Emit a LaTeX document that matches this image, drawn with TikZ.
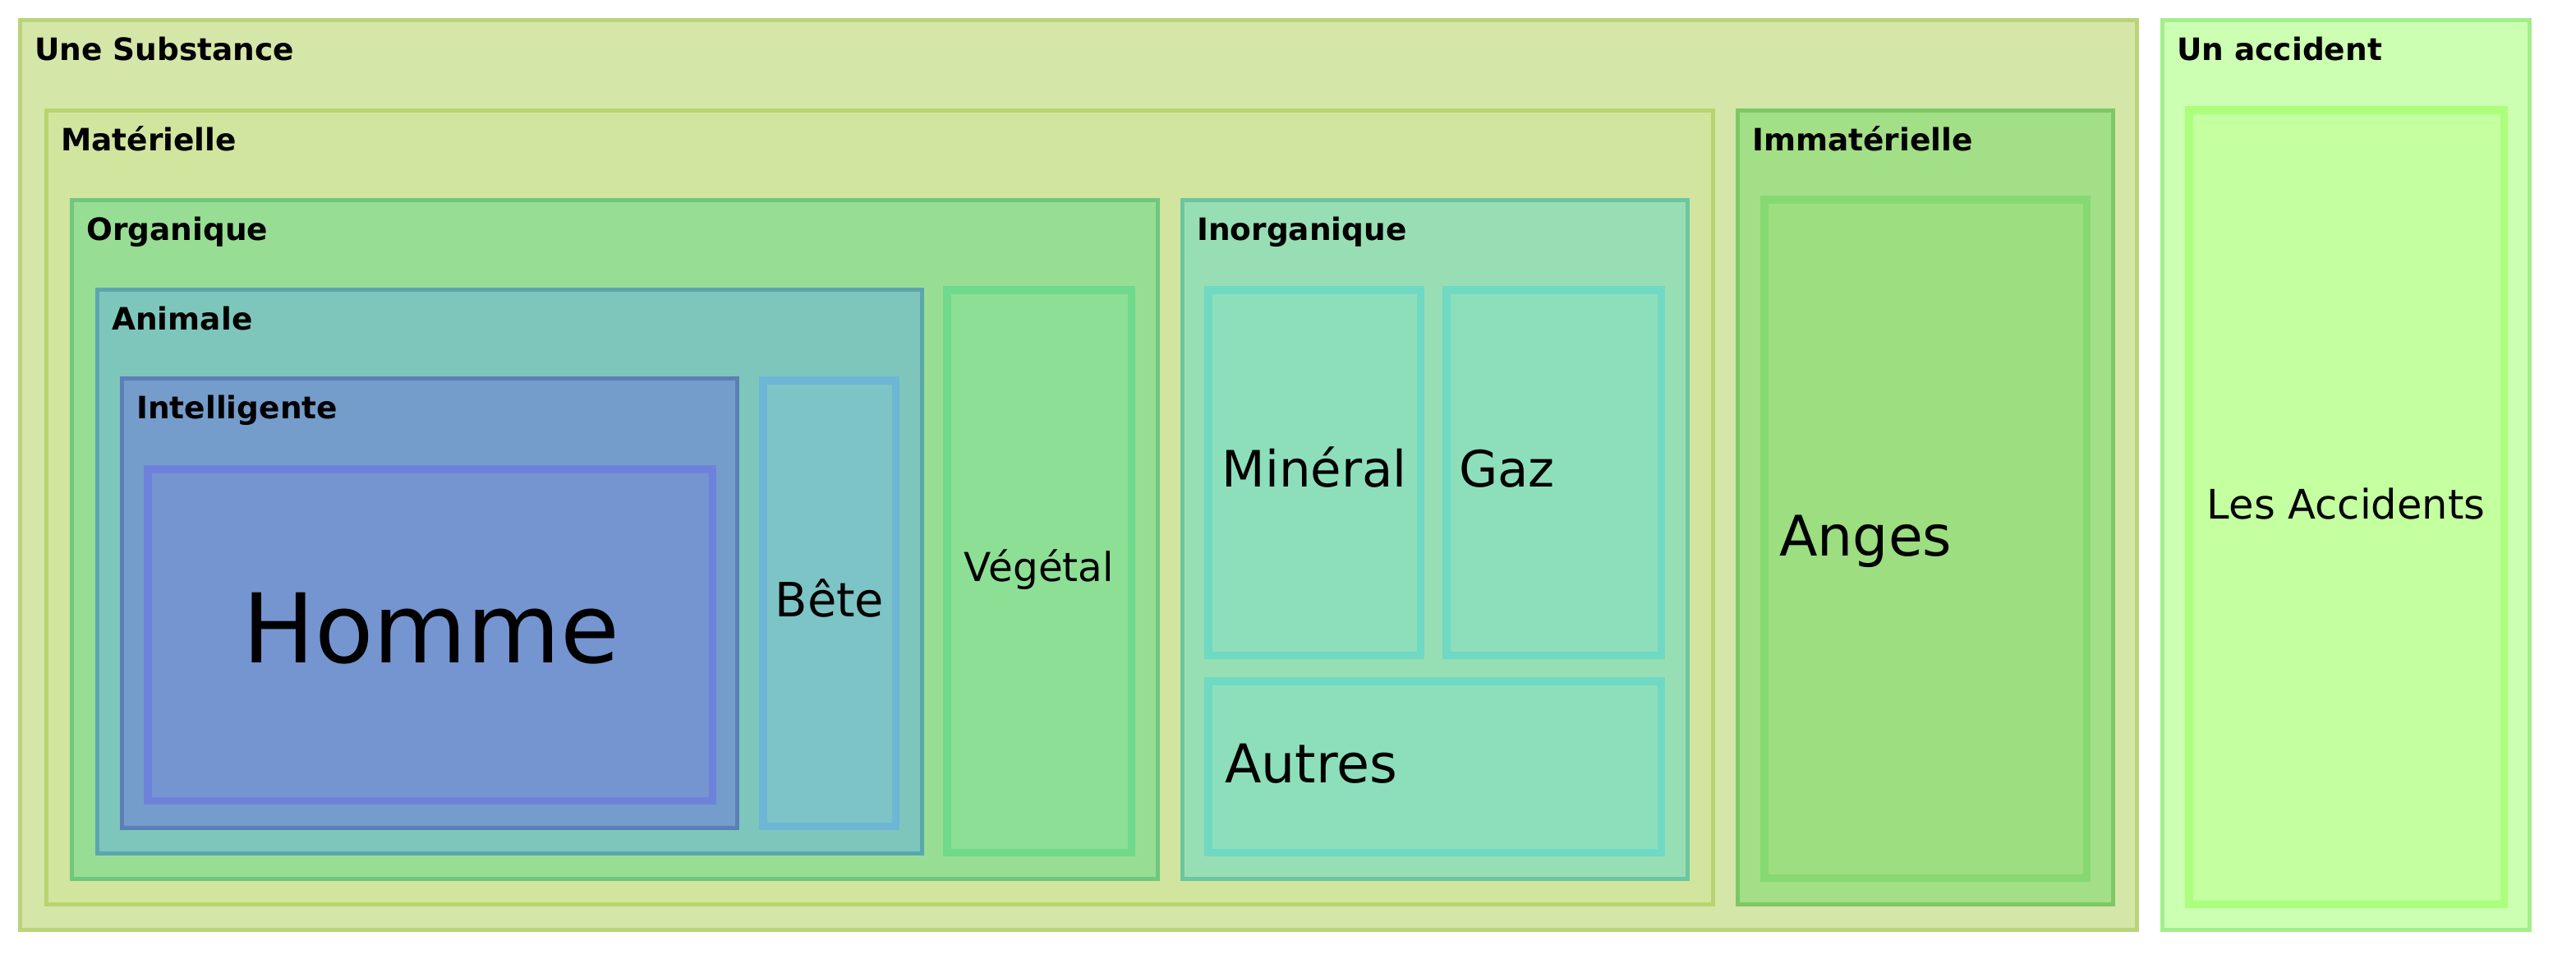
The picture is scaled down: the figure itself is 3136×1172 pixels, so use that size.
\documentclass[tikz,border=0pt]{standalone}
\usepackage{fontspec}
\setmainfont{DejaVu Sans}
\definecolor{subF}{HTML}{D5E6A9}\definecolor{subL}{HTML}{B9D47A}
\definecolor{accF}{HTML}{CCFFB2}\definecolor{accL}{HTML}{A3EE8A}
\definecolor{matF}{HTML}{D1E59F}\definecolor{matL}{HTML}{B8D46F}
\definecolor{immF}{HTML}{A3DF86}\definecolor{immL}{HTML}{7DC866}
\definecolor{orgF}{HTML}{97DE94}\definecolor{orgL}{HTML}{70C67C}
\definecolor{inoF}{HTML}{98DEB5}\definecolor{inoL}{HTML}{6CC6A0}
\definecolor{aniF}{HTML}{7EC6BB}\definecolor{aniL}{HTML}{5BA6AE}
\definecolor{intF}{HTML}{759DCC}\definecolor{intL}{HTML}{5B7FB6}
\definecolor{homF}{HTML}{7595D1}\definecolor{homL}{HTML}{6E82DB}
\definecolor{betF}{HTML}{7DC4C6}\definecolor{betL}{HTML}{6EB6D6}
\definecolor{vegF}{HTML}{8DDF95}\definecolor{vegL}{HTML}{6FD98C}
\definecolor{minF}{HTML}{8DDFBB}\definecolor{minL}{HTML}{6FD9C4}
\definecolor{angF}{HTML}{9CDE80}\definecolor{angL}{HTML}{86D872}
\definecolor{lacF}{HTML}{C4FFA0}\definecolor{lacL}{HTML}{ABFF7C}
\newcommand\thinbx[6]{%
  \fill[#6F] (#2,#3) rectangle (#4,#5);
  \draw[#6L, line width=5pt] (#2+2.5,#3+2.5) rectangle (#4-2.5,#5-2.5);
  \coordinate (#1) at (#2,#3);}
\newcommand\thickbx[6]{%
  \fill[#6F] (#2,#3) rectangle (#4,#5);
  \draw[#6L, line width=9.5pt] (#2+4.75,#3+4.75) rectangle (#4-4.75,#5-4.75);
  \coordinate (#1) at (#2,#3);}
\tikzset{
  hdr/.style={font=\fontsize{37.5}{44}\selectfont\bfseries, anchor=base west, inner sep=0pt, text=black},
  leafc/.style={anchor=base, inner sep=0pt, text=black},
  leafl/.style={anchor=base west, inner sep=0pt, text=black},
}
\begin{document}
\begin{tikzpicture}[x=1pt,y=-1pt]
\fill[white] (0,0) rectangle (3136,1172);
\useasboundingbox (0,0) rectangle (3136,1172);
% thin boxes
\thinbx{sub}{22}{22}{2604}{1134}{sub}
\thinbx{acc}{2630}{22}{3082}{1134}{acc}
\thinbx{mat}{54}{132}{2088}{1103}{mat}
\thinbx{imm}{2113}{132}{2575}{1103}{imm}
\thinbx{org}{85}{241}{1412}{1072}{org}
\thinbx{ino}{1437}{241}{2057}{1072}{ino}
\thinbx{ani}{116}{350}{1125}{1041}{ani}
\thinbx{int}{146}{458}{900}{1010}{int}
% thick (leaf) boxes
\thickbx{hom}{175}{566}{872}{979}{hom}
\thickbx{bet}{924}{458}{1095}{1010}{bet}
\thickbx{veg}{1148}{348}{1382}{1042}{veg}
\thickbx{min}{1466}{348}{1734}{802}{min}
\thickbx{gaz}{1756}{348}{2027}{802}{min}
\thickbx{aut}{1466}{824}{2027}{1042}{min}
\thickbx{ang}{2143}{238}{2545}{1073}{ang}
\thickbx{lac}{2660}{129}{3053}{1105}{lac}
% headers
\node[hdr] (tSub) at (42,74) {Une Substance};
\node[hdr] (tAcc) at (2650,74) {Un accident};
\node[hdr] (tMat) at (74,183) {Matérielle};
\node[hdr] (tImm) at (2133,183) {Immatérielle};
\node[hdr] (tOrg) at (105,292) {Organique};
\node[hdr] (tIno) at (1457,292) {Inorganique};
\node[hdr] (tAni) at (136,401) {Animale};
\node[hdr] (tInt) at (166,509) {Intelligente};
% leaf labels
\node[leafc, font=\fontsize{117}{134}\selectfont] (tHom) at (525,806) {Homme};
\node[leafc, font=\fontsize{57.5}{66}\selectfont] (tBet) at (1010,750) {Bête};
\node[leafc, font=\fontsize{48.5}{56}\selectfont] (tVeg) at (1265,707) {Végétal};
\node[leafc, font=\fontsize{61}{70}\selectfont] (tMin) at (1600,592) {Minéral};
\node[leafl, font=\fontsize{61}{70}\selectfont] (tGaz) at (1776,592) {Gaz};
\node[leafl, font=\fontsize{65}{74}\selectfont] (tAut) at (1491,952) {Autres};
\node[leafl, font=\fontsize{68}{78}\selectfont] (tAng) at (2166,676) {Anges};
\node[leafc, font=\fontsize{49.5}{56}\selectfont] (tLac) at (2856,631) {Les Accidents};
\end{tikzpicture}
\end{document}
